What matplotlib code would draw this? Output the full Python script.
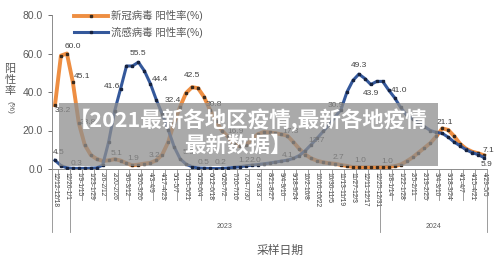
import matplotlib
matplotlib.use("Agg")
import matplotlib.pyplot as plt
import numpy as np

plt.rcParams['font.family'] = ['Liberation Sans', 'Noto Sans CJK SC', 'DejaVu Sans']

# weekly positivity rate (%), 12/12/2022 .. 4/29/2024
covid = [33.2, 58.9, 60.0, 45.1, 23.8, 12.5, 7.3, 5.2, 4.2, 4.5,
         5.1, 4.4, 3.0, 1.9, 2.3, 2.8, 3.2, 4.5, 7.5, 14.0,
         24.0, 32.4, 39.5, 42.5, 42.0, 37.5, 30.8, 25.0, 20.0, 16.9,
         13.0, 11.8, 12.5, 15.0, 18.0, 19.2, 19.0, 18.6, 18.0, 17.3,
         14.0, 10.5, 7.5, 5.5, 4.3, 3.5, 3.0, 2.7, 2.1, 1.6,
         1.0, 0.9, 0.9, 0.9, 0.9, 1.0, 1.1, 1.5, 2.3, 4.0,
         6.0, 8.5, 11.0, 13.5, 17.0, 21.1, 20.3, 17.0, 13.0, 10.5,
         9.0, 8.2, 7.1]
flu = [4.5, 1.8, 0.6, 0.3, 0.3, 0.3, 0.4, 0.6, 2.0, 14.0,
       30.0, 41.6, 53.5, 53.5, 55.5, 51.0, 44.4, 36.0, 28.5, 20.5,
       11.5, 5.3, 2.5, 1.2, 0.5, 0.4, 0.3, 0.2, 0.3, 0.5,
       0.8, 1.2, 1.6, 2.0, 2.3, 2.7, 3.1, 3.6, 4.1, 4.6,
       5.5, 7.0, 9.5, 12.7, 16.0, 19.5, 23.0, 27.0, 30.9, 40.0,
       46.0, 49.3, 47.0, 43.9, 45.5, 45.5, 41.0, 37.0, 32.0, 28.0,
       26.0, 24.0, 22.0, 20.0, 19.0, 18.5, 16.5, 14.0, 12.0, 10.0,
       8.5, 7.5, 5.9]

week_labels = ['12/12-12/18', '12/26-1/1', '1/9-1/15', '1/23-1/29', '2/6-2/12',
               '2/20-2/26', '3/6-3/12', '3/20-3/26', '4/3-4/9', '4/17-4/23',
               '5/1-5/7', '5/15-5/21', '5/29-6/4', '6/12-6/18', '6/26-7/2',
               '7/10-7/16', '7/24-7/30', '8/7-8/13', '8/21-8/27', '9/4-9/10',
               '9/18-9/24', '10/2-10/8', '10/16-10/22', '10/30-11/5', '11/13-11/19',
               '11/27-12/3', '12/11-12/17', '12/25-12/31', '1/8-1/14', '1/22-1/28',
               '2/5-2/11', '2/19-2/25', '3/4-3/10', '3/18-3/24', '4/1-4/7',
               '4/15-4/21', '4/29-5/5']
years = ['2023', '2024']
year_spans = [(3, 54), (55, 72)]

# labelled points: index into series
covid_lab = [0, 2, 3, 4, 10, 13, 16, 21, 23, 26, 29, 39, 47, 50, 55, 65, 72]
flu_lab = [0, 3, 11, 14, 16, 21, 24, 27, 31, 33, 38, 43, 48, 51, 53, 56, 72]
# label offsets in pixels (dx right, dy up)
covid_off = [(8, -5), (6, 7), (9, 6), (9, 1), (2, 6), (1, 7), (4, 7), (-7, 6), (0, 12),
             (4, 5), (8, 5), (3, 4), (3, 6), (7, 7), (5, 6), (3, 6), (4, 5)]
flu_off = [(4, 8), (4, 5), (-9, 2), (0, 9), (10, 4), (8, 6), (6, 6), (5, 6), (5, 6),
           (4, 5), (6, 6), (5, 4), (-5, 4), (0, 9), (0, -9), (10, 0), (2, -7)]

orange = '#EE8E42'
blue = '#34589B'
grey = '#595959'

fig = plt.figure(figsize=(5, 2.69), dpi=100)
ax = fig.add_axes([52 / 500, 100 / 269, 435 / 500, 154 / 269])

x = np.arange(len(covid))
ax.plot(x, covid, color=orange, lw=2.8, marker='s', ms=1.6,
        mfc='#3b2a1c', mec='#3b2a1c', label='新冠病毒 阳性率(%)', zorder=3)
ax.plot(x, flu, color=blue, lw=2.2, marker='s', ms=1.6,
        mfc='#17233f', mec='#17233f', label='流感病毒 阳性率(%)', zorder=3)

for i, (dx, dy) in zip(covid_lab, covid_off):
    ax.annotate(f'{covid[i]:.1f}', (x[i], covid[i]), xytext=(dx * 0.72, dy * 0.72),
                textcoords='offset points', ha='center', va='center',
                fontsize=6, color='#404040', zorder=4)
for i, (dx, dy) in zip(flu_lab, flu_off):
    ax.annotate(f'{flu[i]:.1f}', (x[i], flu[i]), xytext=(dx * 0.72, dy * 0.72),
                textcoords='offset points', ha='center', va='center',
                fontsize=6, color='#404040', zorder=4)

ax.set_xlim(-0.5, len(covid) - 0.5)
ax.set_ylim(0, 80)
ax.set_yticks([0, 20, 40, 60, 80])
ax.set_yticklabels([f'{v:.1f}' for v in [0, 20, 40, 60, 80]])
ax.tick_params(axis='y', labelsize=7.5, colors=grey, length=3, width=0.6)
ax.set_xticks(x[::2])
ax.set_xticklabels(week_labels, rotation=-90, fontsize=4.8, color='#404040')
ax.tick_params(axis='x', length=0, pad=2)
for s in ['top', 'right']:
    ax.spines[s].set_visible(False)
for s in ['left', 'bottom']:
    ax.spines[s].set_color('#8c8c8c')
    ax.spines[s].set_linewidth(0.7)

# category separators below the axis
tr = ax.get_xaxis_transform()
short = -(200 - 169) / 154
long_ = -(232 - 169) / 154
for b in np.arange(0.5, len(covid) - 1, 2):
    if b in (2.5, 54.5):
        continue
    ax.plot([b, b], [0, short], color='#8c8c8c', lw=0.6, transform=tr, clip_on=False)
for b in [-0.5, 2.5, 54.5, len(covid) - 0.5]:
    ax.plot([b, b], [0, long_], color='#8c8c8c', lw=0.6, transform=tr, clip_on=False)
for yr, (a, b) in zip(years, year_spans):
    ax.text((a + b) / 2, -(226 - 169) / 154, yr, transform=tr, ha='center',
            va='center', fontsize=5, color=grey)

leg = ax.legend(loc='upper left', bbox_to_anchor=(70 / 500, 1 - 6 / 269),
                bbox_transform=fig.transFigure, frameon=False, fontsize=7.5,
                handlelength=3.2, handletextpad=0.3, labelspacing=0.55,
                borderaxespad=0)
for t in leg.get_texts():
    t.set_color(grey)

fig.text(280 / 500, 1 - 251 / 269, '采样日期', ha='center', va='center',
         fontsize=8.5, color=grey)
fig.text(10 / 500, 1 - 80 / 269, '阳\n性\n率', ha='center', va='center',
         fontsize=8, color=grey, linespacing=1.1)
fig.text(10 / 500, 1 - 107 / 269, '(%)', ha='center', va='center',
         fontsize=6, color=grey, rotation=-90)

# overlay banner
fig.patches.append(plt.Rectangle((59 / 500, 1 - 166 / 269), 379 / 500, 63 / 269,
                                 transform=fig.transFigure, facecolor='#8e8e8e',
                                 alpha=0.75, edgecolor='none', zorder=10))
fig.text(248 / 500, 1 - 120 / 269, '【2021最新各地区疫情,最新各地疫情',
         ha='center', va='center', fontsize=15.5, color='white',
         fontweight='bold', family=['Noto Sans CJK SC', 'DejaVu Sans'], zorder=11)
fig.text(238 / 500, 1 - 145 / 269, '最新数据】',
         ha='center', va='center', fontsize=15.5, color='white',
         fontweight='bold', family=['Noto Sans CJK SC', 'DejaVu Sans'], zorder=11)

fig.savefig('out.png', dpi=100)
